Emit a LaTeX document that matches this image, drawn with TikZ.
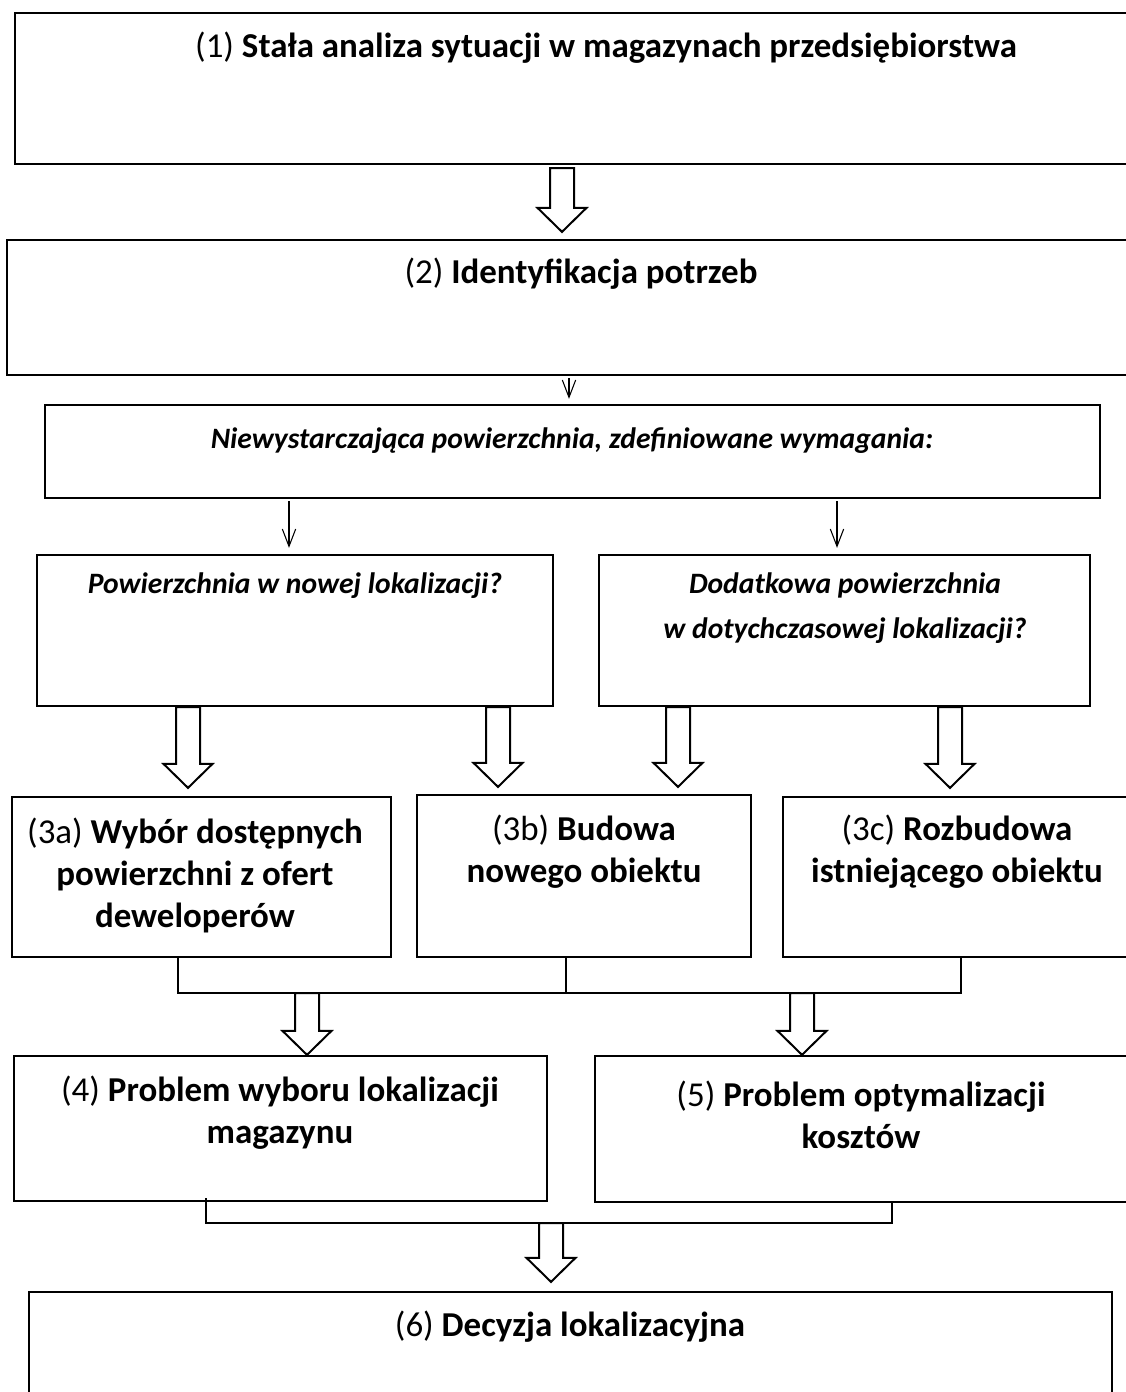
\documentclass[tikz,border=0pt]{standalone}
\usepackage{fontspec}
\setmainfont{Carlito}
\usetikzlibrary{arrows.meta,calc,fit}
\newcommand\barrow[2]{%
  \draw[blk] ($(#1)+(-12,0)$) -- ($(#2)+(-12,-24)$) -- ($(#2)+(-24.5,-24)$) -- (#2)
    -- ($(#2)+(24.5,-24)$) -- ($(#2)+(12,-24)$) -- ($(#1)+(12,0)$) -- cycle;}
\begin{document}
\begin{tikzpicture}[x=0.75pt,y=-0.75pt,
  box/.style={draw, line width=1.7pt, inner sep=0pt},
  blk/.style={draw, line width=1.5pt, fill=white, line join=miter},
  thinline/.style={line width=0.8pt},
  tarr/.style={thinline, -{Straight Barb[length=13pt,width=10pt]}},
  big/.style={font=\fontsize{26.2}{31.5}\selectfont, align=center, inner sep=0pt},
  ital/.style={font=\fontsize{22.2}{33.75}\selectfont\bfseries\itshape, align=center, inner sep=0pt},
]
\useasboundingbox (0,0) rectangle (1126,1392);
% boxes
\node[box, fit={(15,13) (1140,164)}] (b1) {};
\node[box, fit={(7,240) (1140,375)}] (b2) {};
\node[box, fit={(45,405) (1100,498)}] (bn) {};
\node[box, fit={(37,555) (553,706)}] (bp) {};
\node[box, fit={(599,555) (1090,706)}] (bd) {};
\node[box, fit={(12,797) (391,957)}] (b3a) {};
\node[box, fit={(417,795) (751,957)}] (b3b) {};
\node[box, fit={(783,797) (1140,957)}] (b3c) {};
\node[box, fit={(14,1056) (547,1201)}] (b4) {};
\node[box, fit={(595,1056) (1140,1202)}] (b5) {};
\node[box, fit={(29,1292) (1112,1410)}] (b6) {};
% texts
\node[big] (t1) at (606,48) {(1) \textbf{Stała analiza sytuacji w magazynach przedsiębiorstwa}};
\node[big] (t2) at (581,274) {(2) \textbf{Identyfikacja potrzeb}};
\node[ital] (tn) at (572,441) {Niewystarczająca powierzchnia, zdefiniowane wymagania:};
\node[ital] (tp) at (295,586) {Powierzchnia w nowej lokalizacji?};
\node[ital] (td) at (845,608) {Dodatkowa powierzchnia\\w dotychczasowej lokalizacji?};
\node[big] (t3a) at (195,875) {(3a) \textbf{Wybór dostępnych}\\\textbf{powierzchni z ofert}\\\textbf{deweloperów}};
\node[big] (t3b) at (584,852) {(3b) \textbf{Budowa}\\\textbf{nowego obiektu}};
\node[big] (t3c) at (957,852) {(3c) \textbf{Rozbudowa}\\\textbf{istniejącego obiektu}};
\node[big] (t4) at (280,1113) {(4) \textbf{Problem wyboru lokalizacji}\\\textbf{magazynu}};
\node[big] (t5) at (861,1115) {(5) \textbf{Problem optymalizacji}\\\textbf{kosztów}};
\node[big] (t6) at (570,1327) {(6) \textbf{Decyzja lokalizacyjna}};
% x positions
\coordinate (x1) at (562,0);
\coordinate (x2) at (569,0);
\coordinate (xl) at (289,0);
\coordinate (xr) at (837,0);
\coordinate (xa) at (188,0);
\coordinate (xb) at (498,0);
\coordinate (xc) at (678,0);
\coordinate (xd) at (950,0);
\coordinate (xp) at (178,0);
\coordinate (xq) at (566,0);
\coordinate (xs) at (961,0);
\coordinate (xu) at (307,0);
\coordinate (xv) at (802,0);
\coordinate (xg) at (206,0);
\coordinate (xh) at (892,0);
\coordinate (xk) at (551,0);
\coordinate (bar1) at (0,993);
\coordinate (bar2) at (0,1223);
% block arrows
\barrow{$(b1.south -| x1)+(0,3)$}{$(b2.north -| x1)+(0,-7)$}
\barrow{bp.south -| xa}{$(b3a.north -| xa)+(0,-8)$}
\barrow{bp.south -| xb}{$(b3b.north -| xb)+(0,-7)$}
\barrow{bd.south -| xc}{$(b3b.north -| xc)+(0,-7)$}
\barrow{bd.south -| xd}{$(b3c.north -| xd)+(0,-8)$}
% thin arrows
\draw[tarr] ($(b2.south -| x2)+(0,2)$) -- ($(bn.north -| x2)+(0,-5)$);
\draw[tarr] ($(bn.south -| xl)+(0,2)$) -- ($(bp.north -| xl)+(0,-6)$);
\draw[tarr] ($(bn.south -| xr)+(0,2)$) -- ($(bd.north -| xr)+(0,-6)$);
% joining bars
\draw[thinline] (b3a.south -| xp) -- (bar1 -| xp) -- (bar1 -| xs) -- (b3c.south -| xs);
\draw[thinline] (b3b.south -| xq) -- (bar1 -| xq);
\barrow{bar1 -| xu}{b4.north -| xu}
\barrow{bar1 -| xv}{b5.north -| xv}
\draw[thinline] ($(b4.south -| xg)+(0,-4)$) -- (bar2 -| xg) -- (bar2 -| xh) -- (b5.south -| xh);
\barrow{bar2 -| xk}{$(b6.north -| xk)+(0,-9)$}
\end{tikzpicture}
\end{document}
